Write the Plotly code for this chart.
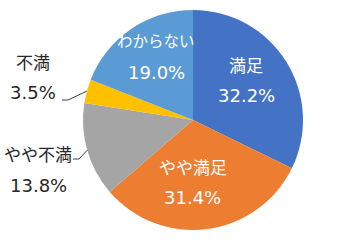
import math
import plotly.graph_objects as go

labels = ["満足", "やや満足", "やや不満", "不満", "わからない"]
values = [32.2, 31.4, 13.8, 3.5, 19.0]
pct_text = ["32.2%", "31.4%", "13.8%", "3.5%", "19.0%"]
colors = ["#4472C4", "#ED7D31", "#A5A5A5", "#FFC000", "#5B9BD5"]

W, H = 350, 241
CX, CY, R = 193, 120, 110  # pie center / radius in px
FONT = "DejaVu Sans, Noto Sans CJK JP, sans-serif"
FS_LABEL = [17, 17, 17, 17, 15.5]
FS_PCT = 18

fig = go.Figure(go.Pie(
    labels=labels, values=values, sort=False, direction="clockwise", rotation=0,
    marker=dict(colors=colors, line=dict(width=0)),
    textinfo="none", hoverinfo="label+percent", showlegend=False,
    domain=dict(x=[(CX - R) / W, (CX + R) / W], y=[1 - (CY + R) / H, 1 - (CY - R) / H]),
))

total = sum(values)
cum = 0
mids = []
for v in values:
    mids.append((cum + v / 2) / total * 2 * math.pi)
    cum += v

def pt(angle, r):
    return CX + r * math.sin(angle), CY - r * math.cos(angle)

def px2paper(x, y):
    return x / W, 1 - y / H

annotations = []
shapes = []
# inside labels: (index, radius fraction, angle nudge in degrees)
inside = {0: (0.60, -4.5), 1: (0.57, 7.5), 4: (0.66, 4.0)}
for i, (rf, nudge) in inside.items():
    x, y = pt(mids[i] + math.radians(nudge), R * rf)
    for text, dy, fs in ((labels[i], -15, FS_LABEL[i]), (pct_text[i], 15, FS_PCT)):
        px, py = px2paper(x, y + dy)
        annotations.append(dict(x=px, y=py, xref="paper", yref="paper", text=text,
                                showarrow=False, xanchor="center", yanchor="middle",
                                font=dict(family=FONT, size=fs, color="white")))

# outside labels with leader lines: (index, text center x, first line y, line end, elbow)
outside = {3: (33, 63, (62, 100), (68, 100)), 2: (38, 155, (73, 159), (79, 159))}
for i, (tx, ty, end, elbow) in outside.items():
    for text, dy, fs in ((labels[i], 0, FS_LABEL[i]), (pct_text[i], 30, FS_PCT)):
        px, py = px2paper(tx, ty + dy)
        annotations.append(dict(x=px, y=py, xref="paper", yref="paper", text=text,
                                showarrow=False, xanchor="center", yanchor="middle",
                                font=dict(family=FONT, size=fs, color="#262626")))
    ex, ey = pt(mids[i], R)
    pts = [px2paper(*end), px2paper(*elbow), px2paper(ex, ey)]
    path = "M {} {} L {} {} L {} {}".format(pts[0][0], pts[0][1], pts[1][0], pts[1][1], pts[2][0], pts[2][1])
    shapes.append(dict(type="path", path=path, xref="paper", yref="paper",
                       line=dict(color="#404040", width=1)))

fig.update_layout(width=W, height=H, margin=dict(l=0, r=0, t=0, b=0),
                  paper_bgcolor="white", plot_bgcolor="white",
                  annotations=annotations, shapes=shapes)
fig.write_html("out.html")
